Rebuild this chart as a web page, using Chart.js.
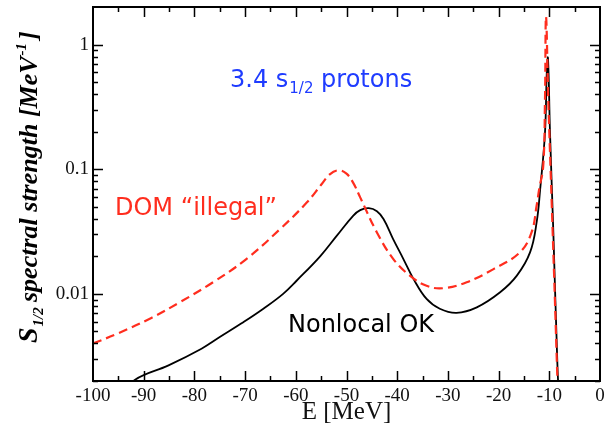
<!DOCTYPE html>
<html>
<head>
<meta charset="utf-8">
<script src="https://cdn.jsdelivr.net/npm/chart.js@4"></script>
<style>
  html, body { margin: 0; padding: 0; background: #fff; }
  canvas { display: block; }
</style>
</head>
<body>
<canvas id="spectralChart" width="607" height="427"></canvas>
<script>
// energies [MeV] and spectral strength [MeV^-1]
const domEnergy = [-100, -95, -88.4, -82.8, -76.3, -69.7, -63.1, -57.8, -55.0, -53.3, -51.6, -50.0, -48.7, -47.3, -44.0, -40.8, -37.5, -34.2, -30.9, -26.3, -21.0, -15.8, -13.5, -12.5, -12.0, -11.2, -10.85, -10.65, -10.2, -9.55, -8.9, -8.4, -8.0];
const domStrength = [0.0040, 0.00483, 0.00644, 0.0086, 0.0124, 0.0191, 0.0331, 0.0542, 0.075, 0.091, 0.098, 0.092, 0.078, 0.0594, 0.0311, 0.0191, 0.0140, 0.0116, 0.0111, 0.0124, 0.0158, 0.0215, 0.0311, 0.0509, 0.069, 0.106, 0.363, 1.68, 0.363, 0.0575, 0.0091, 0.0021, 0.0008];

const nonlocalEnergy = [-95, -91.7, -85.1, -78.6, -75.0, -70.7, -66.4, -62.5, -59.8, -55.2, -51.9, -48.7, -47.3, -45.6, -44.0, -42.7, -40.8, -38.8, -36.8, -34.2, -31.6, -28.3, -24.3, -19.7, -16.4, -13.8, -12.5, -11.8, -10.85, -10.5, -10.26, -9.86, -9.2, -8.4, -8.0];
const nonlocalStrength = [0.0015, 0.00205, 0.00267, 0.00363, 0.0045, 0.0058, 0.0076, 0.0100, 0.0128, 0.0200, 0.0293, 0.0423, 0.0470, 0.0487, 0.046, 0.0398, 0.0275, 0.0191, 0.0132, 0.0091, 0.0076, 0.00705, 0.0078, 0.0103, 0.014, 0.0215, 0.0374, 0.069, 0.196, 0.593, 0.78, 0.196, 0.031, 0.0027, 0.0012];

// axis ticks
const xMajorTicks = [-90, -80, -70, -60, -50, -40, -30, -20, -10];
const xMinorTicks = [-95, -85, -75, -65, -55, -45, -35, -25, -15, -5];
const yMajorTicks = [0.01, 0.1, 1];
const yMinorTicks = [0.002, 0.003, 0.004, 0.005, 0.006, 0.007, 0.008, 0.009,
  0.02, 0.03, 0.04, 0.05, 0.06, 0.07, 0.08, 0.09,
  0.2, 0.3, 0.4, 0.5, 0.6, 0.7, 0.8, 0.9];
const yTickLabels = ["0.01", "0.1", "1"];

const toPoints = (xs, ys) => xs.map((x, i) => ({ x: x, y: ys[i] }));

const serif = "'Liberation Serif', 'Times New Roman', serif";
const sans = "'DejaVu Sans', sans-serif";

// frame, inward ticks and the text labels
const decorations = {
  id: "decorations",
  afterDatasetsDraw(chart) {
    const { ctx, chartArea: a, scales: { x, y } } = chart;
    ctx.save();

    ctx.strokeStyle = "#000";
    ctx.lineWidth = 2;
    ctx.strokeRect(a.left, a.top, a.right - a.left, a.bottom - a.top);

    ctx.lineWidth = 1.5;
    ctx.beginPath();
    const xTick = (v, len) => {
      const px = Math.round(x.getPixelForValue(v)) + 0.5;
      ctx.moveTo(px, a.bottom); ctx.lineTo(px, a.bottom - len);
      ctx.moveTo(px, a.top); ctx.lineTo(px, a.top + len);
    };
    const yTick = (v, len) => {
      const py = Math.round(y.getPixelForValue(v)) + 0.5;
      ctx.moveTo(a.left, py); ctx.lineTo(a.left + len, py);
      ctx.moveTo(a.right, py); ctx.lineTo(a.right - len, py);
    };
    xMajorTicks.forEach(v => xTick(v, 10));
    xMinorTicks.forEach(v => xTick(v, 5));
    yMajorTicks.forEach(v => yTick(v, 10));
    yMinorTicks.forEach(v => yTick(v, 5));
    ctx.stroke();

    // annotations
    ctx.textBaseline = "alphabetic";
    ctx.textAlign = "left";

    ctx.fillStyle = "#1f3cff";
    let cx = 230;
    ctx.font = "24px " + sans;
    ctx.fillText("3.4 s", cx, 87);
    cx += ctx.measureText("3.4 s").width + 1;
    ctx.font = "15px " + sans;
    ctx.fillText("1/2", cx, 93);
    cx += ctx.measureText("1/2").width;
    ctx.font = "24px " + sans;
    ctx.fillText(" protons", cx, 87);

    ctx.fillStyle = "#ff2d1e";
    ctx.font = "24px " + sans;
    ctx.fillText("DOM \u201Cillegal\u201D", 115, 215);

    ctx.fillStyle = "#000";
    ctx.fillText("Nonlocal OK", 288, 332);

    // rotated y-axis title
    ctx.translate(37, 343);
    ctx.rotate(-Math.PI / 2);
    let tx = 0;
    ctx.font = "bold italic 28px " + serif;
    ctx.fillText("S", tx, 0);
    tx += ctx.measureText("S").width + 1;
    ctx.font = "bold italic 15px " + serif;
    ctx.fillText("1/2", tx, 6);
    tx = 41;
    ctx.font = "bold italic 26px " + serif;
    ctx.fillText("spectral strength [MeV", tx, 0);
    tx += ctx.measureText("spectral strength [MeV").width + 1;
    ctx.font = "bold italic 15px " + serif;
    ctx.fillText("-1", tx, -11);
    tx += ctx.measureText("-1").width + 3;
    ctx.font = "bold italic 26px " + serif;
    ctx.fillText("]", tx, 0);

    ctx.restore();
  }
};

new Chart(document.getElementById("spectralChart"), {
  type: "line",
  data: {
    datasets: [
      {
        label: "DOM",
        data: toPoints(domEnergy, domStrength),
        borderColor: "#ff2d1e",
        borderWidth: 2.2,
        borderDash: [9, 5],
        pointRadius: 0,
        tension: 0.4
      },
      {
        label: "Nonlocal",
        data: toPoints(nonlocalEnergy, nonlocalStrength),
        borderColor: "#000",
        borderWidth: 1.8,
        pointRadius: 0,
        tension: 0.4
      }
    ]
  },
  options: {
    responsive: false,
    animation: false,
    layout: { padding: { top: 7, right: 7, left: 0, bottom: 0 } },
    plugins: {
      legend: { display: false },
      tooltip: { enabled: false }
    },
    scales: {
      x: {
        type: "linear",
        min: -100,
        max: 0,
        grid: { display: false, drawTicks: false },
        border: { display: false },
        ticks: {
          stepSize: 10,
          padding: 4,
          color: "#111",
          font: { family: serif, size: 19 }
        },
        title: {
          display: true,
          text: "E [MeV]",
          color: "#111",
          padding: { top: 0, bottom: 0 },
          font: { family: serif, size: 25 }
        },
        afterFit(scale) {
          scale.height = 46;
          scale.paddingLeft = 0;
          scale.paddingRight = 0;
        }
      },
      y: {
        type: "logarithmic",
        min: 0.002,
        max: 2,
        grid: { display: false, drawTicks: false },
        border: { display: false },
        ticks: {
          autoSkip: false,
          padding: 4,
          color: "#111",
          font: { family: serif, size: 19 },
          callback(value) {
            const i = yMajorTicks.findIndex(t => Math.abs(t - value) < t * 1e-6);
            return i >= 0 ? yTickLabels[i] : "";
          }
        },
        afterFit(scale) {
          scale.width = 93;
          scale.paddingTop = 0;
          scale.paddingBottom = 0;
        }
      }
    }
  },
  plugins: [decorations]
});
</script>
</body>
</html>
